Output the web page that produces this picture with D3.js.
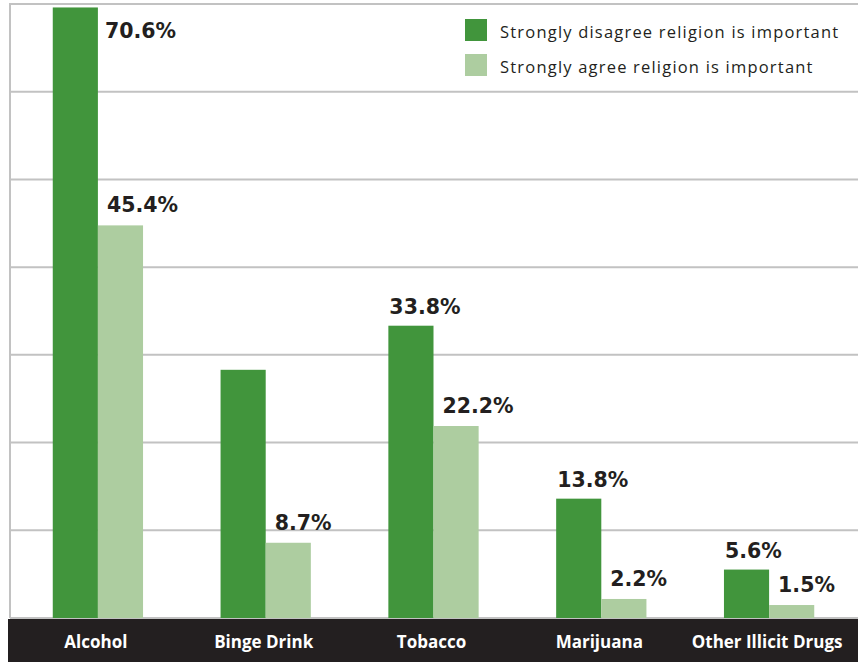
<!DOCTYPE html>
<html>
<head>
<meta charset="utf-8">
<script src="https://cdn.jsdelivr.net/npm/d3@7"></script>
<style>
  html, body { margin: 0; padding: 0; background: #fff; }
  svg { display: block; }
</style>
</head>
<body>
<svg id="chart" width="858" height="662"></svg>
<script>
// Substance use among youth, by how important religion is to them
const categories = ["Alcohol", "Binge Drink", "Tobacco", "Marijuana", "Other Illicit Drugs"];
const seriesNames = ["Strongly disagree religion is important", "Strongly agree religion is important"];
const disagreeValues = [70.6, 28.7, 33.8, 13.8, 5.6];
const agreeValues = [45.4, 8.7, 22.2, 2.2, 1.5];
// Value labels printed above the bars (the binge-drink disagree bar carries none)
const disagreeLabels = ["70.6%", null, "33.8%", "13.8%", "5.6%"];
const agreeLabels = ["45.4%", "8.7%", "22.2%", "2.2%", "1.5%"];
const seriesColors = ["#41953c", "#adcda0"];
const yMax = 71;
const gridCount = 7;

const W = 858, H = 662;
const plot = { left: 10, right: 858, top: 4, bottom: 618 };
const svg = d3.select("#chart");

const x = d3.scaleBand()
  .domain(categories)
  .range([14, 853])
  .paddingInner(0.462)
  .paddingOuter(0.231);

const xSub = d3.scaleBand()
  .domain(seriesNames)
  .range([0, x.bandwidth()]);

const y = d3.scaleLinear().domain([0, yMax]).range([plot.bottom, plot.top]);

// Horizontal gridlines
const gridValues = d3.range(gridCount + 1).map(i => i * yMax / gridCount);
svg.append("g")
  .selectAll("line")
  .data(gridValues)
  .join("line")
  .attr("x1", plot.left)
  .attr("x2", plot.right)
  .attr("y1", d => y(d))
  .attr("y2", d => y(d))
  .attr("stroke", "#c2c2c2")
  .attr("stroke-width", 2);

// Left axis line
svg.append("line")
  .attr("x1", plot.left).attr("x2", plot.left)
  .attr("y1", plot.top - 1).attr("y2", plot.bottom)
  .attr("stroke", "#c2c2c2")
  .attr("stroke-width", 2);

// Bars
const rows = categories.map((c, i) => ({
  category: c,
  values: [
    { series: seriesNames[0], value: disagreeValues[i], label: disagreeLabels[i], color: seriesColors[0] },
    { series: seriesNames[1], value: agreeValues[i], label: agreeLabels[i], color: seriesColors[1] }
  ]
}));

const groups = svg.append("g")
  .selectAll("g")
  .data(rows)
  .join("g")
  .attr("transform", d => `translate(${x(d.category)},0)`);

groups.selectAll("rect")
  .data(d => d.values)
  .join("rect")
  .attr("x", d => xSub(d.series))
  .attr("y", d => y(d.value))
  .attr("width", xSub.bandwidth())
  .attr("height", d => y(0) - y(d.value))
  .attr("fill", d => d.color);

// Value labels: dark-bar labels sit over the bar, light-bar labels start just right of the bar edge;
// a bar that reaches the top of the plot gets its label beside it instead
groups.selectAll("text.value")
  .data(d => d.values.filter(v => v.label))
  .join("text")
  .attr("class", "value")
  .attr("font-family", "'DejaVu Sans', Verdana, sans-serif")
  .attr("font-weight", "bold")
  .attr("font-size", "20.5px")
  .attr("fill", "#231f20")
  .attr("x", d => {
    const left = xSub(d.series);
    if (d.series === seriesNames[0]) {
      return y(d.value) < 40 ? left + xSub.bandwidth() + 7 : left + 1;
    }
    return left + 9;
  })
  .attr("y", d => {
    if (d.series === seriesNames[0] && y(d.value) < 40) return y(d.value) + 31;
    return y(d.value) - (d.series === seriesNames[0] ? 12 : 13);
  })
  .text(d => d.label);

// Dark category band along the bottom
svg.append("rect")
  .attr("x", 8)
  .attr("y", plot.bottom + 1)
  .attr("width", W - 8)
  .attr("height", H - plot.bottom - 1)
  .attr("fill", "#231f20");

svg.append("g")
  .selectAll("text")
  .data(categories)
  .join("text")
  .attr("x", d => x(d) + x.bandwidth() / 2 - 2)
  .attr("y", 648)
  .attr("text-anchor", "middle")
  .attr("font-family", "'Open Sans', sans-serif")
  .attr("font-weight", "bold")
  .attr("font-size", "17px")
  .attr("fill", "#ffffff")
  .text(d => d);

// Legend
const legend = svg.append("g")
  .selectAll("g")
  .data(seriesNames)
  .join("g")
  .attr("transform", (d, i) => `translate(465,${19 + i * 35})`);

legend.append("rect")
  .attr("width", 22)
  .attr("height", 22)
  .attr("fill", (d, i) => seriesColors[i]);

legend.append("text")
  .attr("x", 35)
  .attr("y", 18.5)
  .attr("font-family", "'Open Sans', sans-serif")
  .attr("font-size", "16.5px")
  .attr("letter-spacing", "1.2px")
  .attr("fill", "#231f20")
  .text(d => d);
</script>
</body>
</html>
